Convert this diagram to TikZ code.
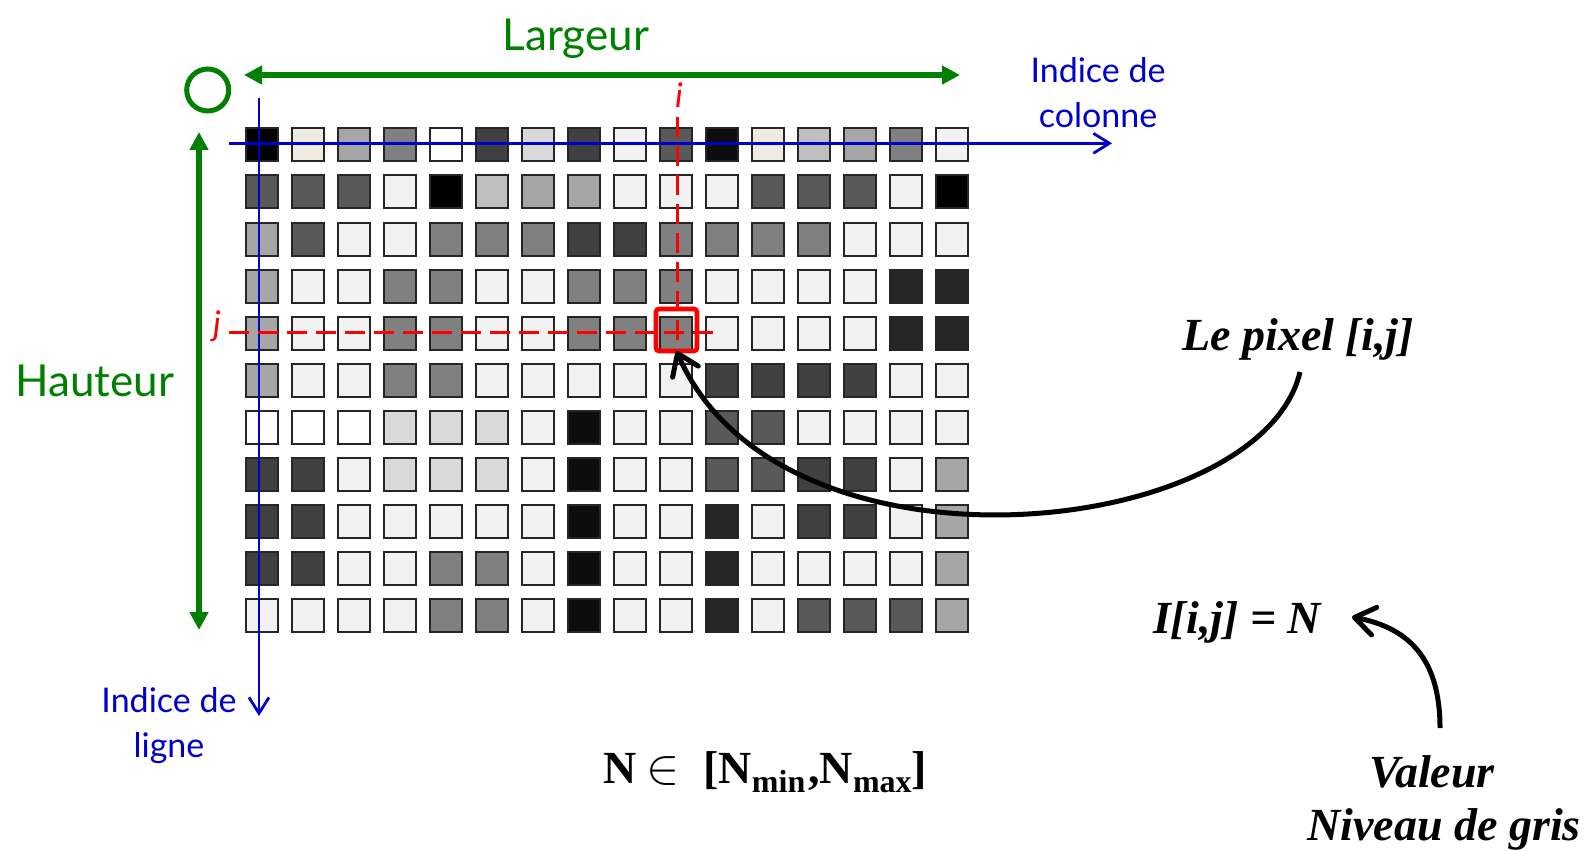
\documentclass[tikz,border=0pt]{standalone}
\usepackage{fontspec}
\setmainfont{Liberation Serif}
\newfontfamily\labelsans{Lato}
\usetikzlibrary{arrows.meta}

\definecolor{axisgreen}{RGB}{0,128,0}
\definecolor{axisblue}{RGB}{0,0,205}
\definecolor{pixedge}{HTML}{262626}
% grey levels of the image pixels
\definecolor{g0}{HTML}{000000}
\definecolor{g1}{HTML}{0D0D0D}
\definecolor{g2}{HTML}{262626}
\definecolor{g3}{HTML}{404040}
\definecolor{g4}{HTML}{595959}
\definecolor{g5}{HTML}{808080}
\definecolor{g6}{HTML}{A6A6A6}
\definecolor{g7}{HTML}{BFBFBF}
\definecolor{g8}{HTML}{D9D9D9}
\definecolor{g9}{HTML}{F2F2F2}
\definecolor{gw}{HTML}{FFFFFF}
\definecolor{gc}{HTML}{EEECE1}

\newcommand\lowsub[1]{\raisebox{-4.5pt}{\fontsize{16}{16}\selectfont #1}}

\tikzset{
  pix/.style={rectangle, draw=pixedge, line width=1pt, minimum width=16pt,
    minimum height=16.5pt, inner sep=0pt, outer sep=0pt},
  dimarrow/.style={draw=axisgreen, line width=3pt,
    {Triangle[length=9pt,width=9pt]}-{Triangle[length=9pt,width=9pt]}},
  axisline/.style={draw=axisblue, line width=1.4pt,
    -{Straight Barb[length=8pt,width=10pt]}},
  guide/.style={draw=red, line width=1.5pt, dash pattern=on 10pt off 4.5pt},
  callout/.style={draw=black, line width=2.5pt,
    -{Straight Barb[length=10pt,width=14pt,round]}},
  greentxt/.style={text=axisgreen, font=\labelsans\fontsize{22}{26}\selectfont, inner sep=0pt},
  bluetxt/.style={text=axisblue, font=\labelsans\fontsize{17}{22.5}\selectfont,
    align=center, inner sep=0pt},
  redtxt/.style={text=red, font=\labelsans\itshape\fontsize{17}{20}\selectfont, inner sep=0pt},
  formula/.style={font=\fontsize{23}{28}\selectfont\bfseries\itshape, inner sep=0pt},
}

\begin{document}
\begin{tikzpicture}[x=0.5pt,y=-0.5pt]
\useasboundingbox (0,0) rectangle (1593,850);

% the 11 x 16 image, row by row
\foreach \row [count=\r] in {
  {0,c,6,5,w,3,8,3,9,4,1,c,7,6,5,9},
  {4,4,4,9,0,7,6,6,9,9,9,4,4,4,9,0},
  {6,4,9,9,5,5,5,3,3,5,5,5,5,9,9,9},
  {6,9,9,5,5,9,9,5,5,5,9,9,9,9,2,2},
  {6,9,9,5,5,9,9,5,5,5,9,9,9,9,2,2},
  {6,9,9,5,5,9,9,9,9,9,3,3,3,3,9,9},
  {w,w,w,8,8,8,9,1,9,9,4,4,9,9,9,9},
  {3,3,9,8,8,8,9,1,9,9,4,4,3,3,9,6},
  {3,3,9,9,9,9,9,1,9,9,2,9,3,3,9,6},
  {3,3,9,9,5,5,9,1,9,9,2,9,9,9,9,6},
  {9,9,9,9,5,5,9,1,9,9,2,9,4,4,4,6}} {
  \foreach \k [count=\c] in \row {
    \node[pix, fill=g\k] (p\r-\c) at ({262.3+(\c-1)*45.95},{145+(\r-1)*47}) {};
  }
}

% column and row index axes
\coordinate (colstart) at (229,143.3);
\coordinate (colend) at (1112,143.3);
\coordinate (rowstart) at (259,98);
\coordinate (rowend) at (259,716);
\draw[axisline] (colstart) -- (colend);
\draw[axisline] (rowstart) -- (rowend);

% guides to the pixel [i,j]
\node[pix, draw=red, fill=none, line width=2.3pt, minimum width=20.5pt,
  minimum height=21pt, rounded corners=1.5pt] (pixbox) at (676.5,330) {};
\coordinate (itop) at (677,117);
\coordinate (ibot) at (677,350);
\coordinate (jleft) at (229,332);
\coordinate (jright) at (719,332);
\draw[guide] (itop) -- (ibot);
\draw[guide] (jleft) -- (jright);
\node[redtxt, anchor=base] (ilbl) at (679,108) {i};
\node[redtxt, anchor=base] (jlbl) at (217,335) {j};

% origin, width and height
\node[circle, draw=axisgreen, line width=2.5pt, minimum size=21pt, inner sep=0pt] (origin) at (207.7,90) {};
\coordinate (wleft) at (244,75);
\coordinate (wright) at (960,75);
\coordinate (htop) at (199,132);
\coordinate (hbot) at (199,630);
\draw[dimarrow] (wleft) -- (wright);
\draw[dimarrow] (htop) -- (hbot);
\node[greentxt, anchor=base] (largeur) at (576,51) {Largeur};
\node[greentxt, anchor=base] (hauteur) at (95,396) {Hauteur};

% axis captions (base anchor sits on the last line)
\node[bluetxt, anchor=base] (colcap) at (1098,128) {Indice de\\colonne};
\node[bluetxt, anchor=base] (rowcap) at (169,757) {Indice de\\ligne};

% formulas and callouts
\node[formula, anchor=base] (pixlbl) at (1298,350) {Le pixel [i,j]};
\node[formula, anchor=base] (eqlbl) at (1237,633) {I[i,j] = N};
\node[formula, anchor=base] (vallbl) at (1432,787) {Valeur};
\node[formula, anchor=base] (grislbl) at (1444,840) {Niveau de gris};
\node[font=\fontsize{23}{28}\selectfont\bfseries, inner sep=0pt, anchor=base] (range) at (765,783)
  {N\hspace{5pt}$\in$\hspace{12pt}[N\lowsub{min}\kern1.5pt,N\lowsub{max}]};

\coordinate (pixfrom) at (1300,372);
\coordinate (valfrom) at (1440,728);
\coordinate (eqto) at (1352,617);
\draw[callout] (pixfrom) .. controls (1260,540) and (780,590) .. (pixbox.south);
\draw[callout] (valfrom) .. controls (1440,660) and (1410,628) .. (eqto);
\end{tikzpicture}
\end{document}
